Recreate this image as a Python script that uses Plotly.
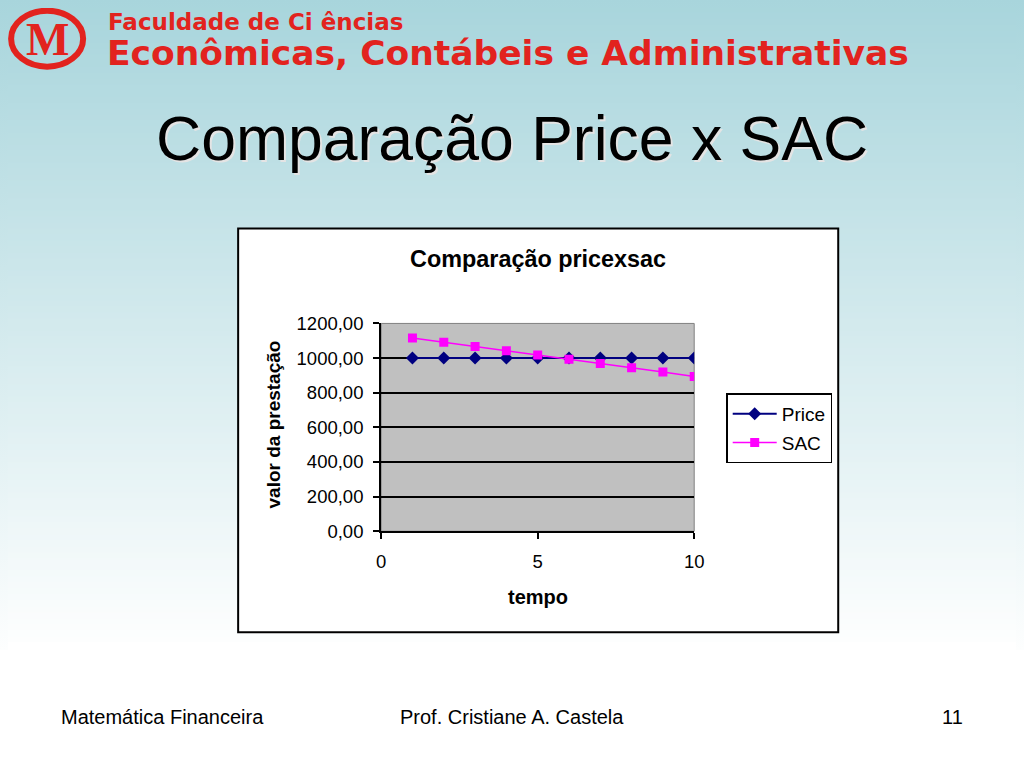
import plotly.graph_objects as go

# ---------------- data ----------------
tempo = [1, 2, 3, 4, 5, 6, 7, 8, 9, 10]
price = [1000, 1000, 1000, 1000, 1000, 1000, 1000, 1000, 1000, 1000]
sac = [1116, 1092, 1067, 1042, 1018, 993, 968, 944, 919, 894]
y_ticks = [0, 200, 400, 600, 800, 1000, 1200]
x_ticks = [0, 5, 10]

# page is 1024x768; the body keeps its default 8px margin
M = 8
W, H = 1024 - 2 * M, 768 - 2 * M
# calibration of the photographed page (picture = A * page + B)
AX, BX, AY, BY = 0.985, 5.0, 0.973, 10.5
def page_x(x):
    return (x - BX) / AX
def page_y(y):
    return (y - BY) / AY
def px(x):
    return (page_x(x) - M) / W
def py(y):
    return 1 - (page_y(y) - M) / H

FONT = "Liberation Sans, Arial, sans-serif"
WIDE = "DejaVu Sans, Verdana, sans-serif"
RED = "#e2231e"

fig = go.Figure()
fig.add_trace(go.Scatter(
    x=tempo, y=price, name="Price", mode="lines+markers",
    line=dict(color="#000080", width=2),
    marker=dict(symbol="diamond", size=10, color="#000080"),
    legendgroup="a"))
fig.add_trace(go.Scatter(
    x=tempo, y=sac, name="SAC", mode="lines+markers",
    line=dict(color="#ff00ff", width=1.5),
    marker=dict(symbol="square", size=9, color="#ff00ff"),
    legendgroup="b"))

shapes = []
# gradient background strips (overlapping to avoid seams)
top = (168, 213, 220)
end = (253, 254, 254)
step = 6
for y0 in range(-12, 780, step):
    t = min(1.0, max(0.0, (y0 + step / 2) / 640.0))
    c = tuple(round(top[i] + (end[i] - top[i]) * t) for i in range(3))
    if y0 >= 640:
        c = (255, 255, 255)
    shapes.append(dict(type="rect", xref="paper", yref="paper",
                       x0=-0.05, x1=1.05, y0=py(y0 + step + 2), y1=py(y0),
                       fillcolor="rgb(%d,%d,%d)" % c, line=dict(width=0),
                       layer="below"))
# chart box
shapes.append(dict(type="rect", xref="paper", yref="paper",
                   x0=px(238), x1=px(838), y0=py(632), y1=py(228),
                   fillcolor="white", line=dict(color="black", width=2),
                   layer="below"))
# plot area background
shapes.append(dict(type="rect", xref="x domain", yref="y domain",
                   x0=0, x1=1, y0=0, y1=1,
                   fillcolor="#c0c0c0", line=dict(color="#808080", width=1),
                   layer="below"))
# logo ring
shapes.append(dict(type="circle", xref="paper", yref="paper",
                   x0=px(11), x1=px(83), y0=py(66), y1=py(10),
                   line=dict(color=RED, width=6), fillcolor="rgba(0,0,0,0)"))

ann = []
def text(s, x, y, size, color="black", xanchor="center", family=FONT, angle=0):
    ann.append(dict(text=s, x=px(x), y=py(y), xref="paper", yref="paper",
                    xanchor=xanchor, yanchor="middle", showarrow=False,
                    textangle=angle,
                    font=dict(family=family, size=size, color=color)))

text("<b>M</b>", 47, 39, 46, RED, family="Liberation Serif, Times New Roman, serif")
text("<b>Faculdade de Ci ências</b>", 106, 21, 23, RED, xanchor="left", family=WIDE)
text("<b>Econômicas, Contábeis e Administrativas</b>", 105, 52, 34.5, RED,
     xanchor="left", family=WIDE)
# slide title with shadow
text("Comparação Price x SAC", 514, 139, 62.5, "#e4e4e4")
text("Comparação Price x SAC", 512, 137, 62.5, "black")
# chart texts
text("<b>Comparação pricexsac</b>", 538, 259, 23.4)
text("<b>valor da prestação</b>", 273, 424, 19, angle=-90)
text("<b>tempo</b>", 538, 597, 20)
# footer
text("Matemática Financeira", 162, 717, 20)
text("Prof. Cristiane A. Castela", 512, 717, 20)
text("11", 952, 717, 20)

fig.update_layout(
    width=W, height=H, autosize=False,
    margin=dict(l=0, r=0, t=0, b=0),
    paper_bgcolor="rgba(0,0,0,0)", plot_bgcolor="rgba(0,0,0,0)",
    separators=",.",
    font=dict(family=FONT, color="black"),
    shapes=shapes, annotations=ann,
    showlegend=True,
    legend=dict(x=px(726), y=py(393), xanchor="left", yanchor="top",
                bgcolor="white", bordercolor="black", borderwidth=1.5,
                font=dict(size=19, family=FONT, color="black"),
                itemwidth=44,
                tracegroupgap=1, traceorder="grouped"),
    xaxis=dict(domain=[px(381), px(694)], range=[0, 10],
               tickvals=x_ticks, ticks="outside", ticklen=6, tickwidth=1.5,
               tickcolor="black", showline=True, linecolor="black", linewidth=2,
               showgrid=False, zeroline=False,
               tickfont=dict(size=18.5, family=FONT, color="black"),
               ticklabelstandoff=7),
    yaxis=dict(domain=[py(531), py(323)], range=[0, 1200],
               tickvals=y_ticks, tickformat=".2f", ticks="outside", ticklen=6,
               tickwidth=1.5, tickcolor="black", showline=True,
               linecolor="black", linewidth=2,
               showgrid=True, gridcolor="black", gridwidth=1.5, zeroline=False,
               tickfont=dict(size=18.5, family=FONT, color="black"),
               ticklabelstandoff=6),
)

fig.write_html(
    "out.html", config={"displayModeBar": False},
    post_script="document.body.style.background="
                "'linear-gradient(to bottom, rgb(168,213,220) 0px, "
                "rgb(253,254,254) 650px, #ffffff 650px) #ffffff';")
